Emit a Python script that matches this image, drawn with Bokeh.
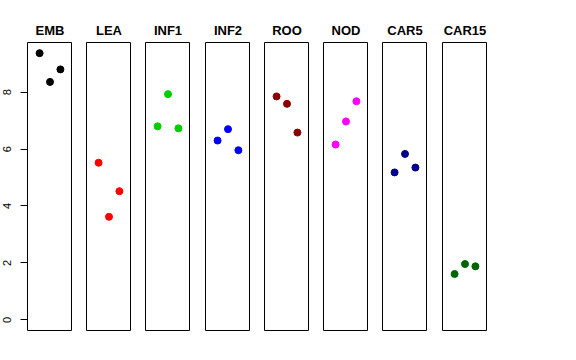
from bokeh.plotting import figure
from bokeh.layouts import row
from bokeh.models import Range1d, FixedTicker
from bokeh.embed import file_html
from bokeh.resources import INLINE

groups = ["EMB", "LEA", "INF1", "INF2", "ROO", "NOD", "CAR5", "CAR15"]
colors = ["#000000", "#FF0000", "#00CD00", "#0000FF", "#8B0000", "#FF00FF", "#00008B", "#006400"]
rep1 = [9.37, 5.52, 6.80, 6.30, 7.85, 6.16, 5.18, 1.61]
rep2 = [8.36, 3.62, 7.93, 6.70, 7.59, 6.97, 5.83, 1.96]
rep3 = [8.80, 4.52, 6.73, 5.96, 6.58, 7.68, 5.35, 1.88]
rep_x = [1, 2, 3]
y_ticks = [0, 2, 4, 6, 8]

ymin, ymax = 0.0, max(rep1 + rep2 + rep3)
pad = 0.04 * (ymax - ymin)
xmin, xmax = 0.0, 4.0
xpad = 0.04 * (xmax - xmin)

left_borders = [27, 14, 14, 15, 14, 14, 14, 15]

figs = []
for i, (g, c) in enumerate(zip(groups, colors)):
    first = i == 0
    p = figure(frame_width=45, frame_height=288, output_backend="svg",
               toolbar_location=None, title=g,
               x_range=Range1d(xmin - xpad, xmax + xpad),
               y_range=Range1d(ymin - pad, ymax + pad),
               min_border_left=left_borders[i], min_border_right=0,
               min_border_top=42, min_border_bottom=10,
               background_fill_color="white", border_fill_color="white")
    p.title.align = "center"
    p.title.text_font = "Liberation Sans"
    p.title.text_font_style = "bold"
    p.title.text_font_size = "13px"
    p.title.text_color = "black"
    p.title.standoff = 10
    p.outline_line_color = "black"
    p.outline_line_width = 1
    p.xgrid.visible = False
    p.ygrid.visible = False
    p.xaxis.visible = False
    if first:
        ax = p.yaxis[0]
        ax.ticker = FixedTicker(ticks=y_ticks)
        ax.axis_line_color = None
        ax.major_tick_out = 7
        ax.major_tick_in = 0
        ax.minor_tick_line_color = None
        ax.major_label_orientation = "vertical"
        ax.major_label_standoff = 9
        ax.major_label_text_font = "Liberation Sans"
        ax.major_label_text_font_size = "11px"
        ax.major_label_text_color = "black"
    else:
        p.yaxis.visible = False
    ys = [rep1[i], rep2[i], rep3[i]]
    p.scatter(rep_x, ys, size=7, color=c, line_color=c)
    figs.append(p)

layout = row(*figs, spacing=0)
open("out.html", "w").write(file_html(layout, INLINE))
